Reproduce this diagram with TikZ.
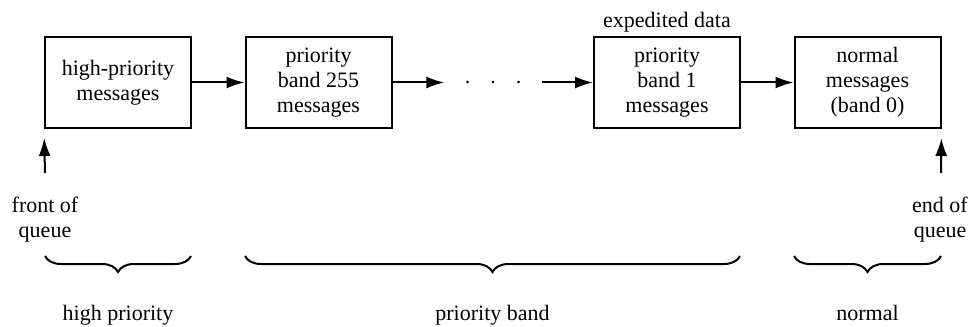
\documentclass[tikz,border=0pt]{standalone}
\usepackage{fontspec}
\setmainfont{Liberation Serif}
\usetikzlibrary{arrows.meta,decorations.pathreplacing}
\tikzset{
  queuebox/.style={draw,line width=1pt,minimum width=73pt,minimum height=45.5pt,align=center,inner sep=1pt},
  flow/.style={line width=1pt,-{Latex[length=9pt,width=6pt]}},
  bandbrace/.style={line width=1pt,decorate,decoration={brace,mirror,amplitude=8pt}},
}
\begin{document}
\begin{tikzpicture}[x=0.5pt,y=-0.5pt,font=\fontsize{11}{12.5}\selectfont]
\useasboundingbox (0,0) rectangle (972,326);
% the queue
\node[queuebox] (high) at (118,82.5) {high-priority\\messages};
\node[queuebox] (band255) at (318.5,82.5) {priority\\band 255\\messages};
\node[inner xsep=10pt,inner ysep=1pt] (dots) at (493,83) {.\hspace{10pt}.\hspace{10pt}.};
\node[queuebox] (band1) at (667,82.5) {priority\\band 1\\messages};
\node[queuebox] (normal) at (867.5,82.5) {normal\\messages\\(band 0)};
\node[anchor=base] (expedited) at (667,28) {expedited data};
\draw[flow] (high) -- (band255);
\draw[flow] (band255) -- (band255 -| dots.west);
\draw[flow] (band1 -| dots.east) -- (band1);
\draw[flow] (band1) -- (normal);
% both ends
\coordinate (frontbot) at (45,173);
\coordinate (endbot) at (941,173);
\draw[flow,shorten >=4.5pt] (frontbot) -- (high.south west);
\draw[flow,shorten >=4.5pt] (endbot) -- (normal.south east);
\node[align=center,anchor=base] (front) at (45,237) {front of\\queue};
\node[align=center,anchor=base] (end) at (940,237) {end of\\queue};
% braces
\draw[bandbrace] (45,256) -- (191,256);
\draw[bandbrace] (245,256) -- (740,256);
\draw[bandbrace] (794,256) -- (941,256);
\node[anchor=base] (highlabel) at (118,320) {high priority};
\node[anchor=base] (bandlabel) at (492.5,320) {priority band};
\node[anchor=base] (normallabel) at (867.5,320) {normal};
\end{tikzpicture}
\end{document}
